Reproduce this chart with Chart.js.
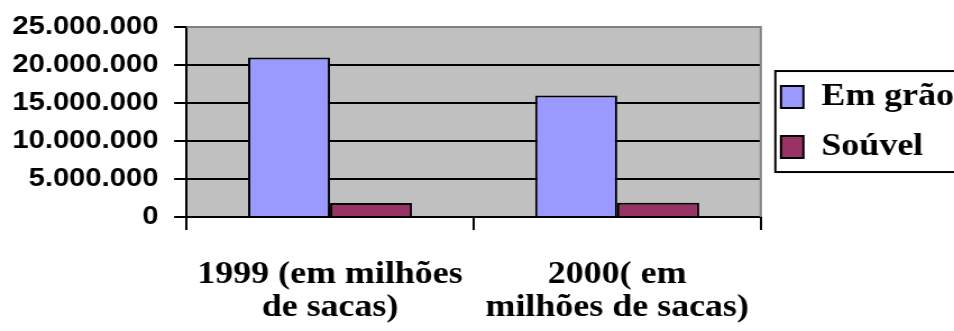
<!DOCTYPE html>
<html>
<head>
<meta charset="utf-8">
<script src="https://cdn.jsdelivr.net/npm/chart.js@4/dist/chart.umd.min.js"></script>
<style>
  html, body { margin: 0; padding: 0; background: #fff; overflow: hidden; }
  /* the source picture is a little stretched sideways, so the chart is too */
  #chart { display: block; width: 850px; height: 331px; transform: scaleX(1.1224); transform-origin: 0 0; }
</style>
</head>
<body>
<canvas id="chart" width="850" height="331"></canvas>
<script>
var categories = [["1999 (em milhões", "de sacas)"], ["2000( em", "milhões de sacas)"]];
var seriesNames = ["Em grão", "Soúvel"];
var emGrao = [21000000, 16000000];
var soluvel = [1850000, 1900000];
var yMin = 0;
var yMax = 25000000;
var yStep = 5000000;

var serif = "'Liberation Serif', 'Times New Roman', Times, serif";
var sans = "'Liberation Sans', Arial, Helvetica, sans-serif";

function fmt(v) {
  return String(v).replace(/\B(?=(\d{3})+(?!\d))/g, ".");
}

// grey plot area, grey top/right frame, box round the legend
var frame = {
  id: "frame",
  beforeDraw: function (chart) {
    var a = chart.chartArea, c = chart.ctx;
    c.save();
    c.fillStyle = "#c0c0c0";
    c.fillRect(a.left, a.top, a.right - a.left, a.bottom - a.top);
    c.restore();
  },
  afterDraw: function (chart) {
    var a = chart.chartArea, c = chart.ctx;
    c.save();
    c.strokeStyle = "#808080";
    c.lineWidth = 2;
    c.beginPath();
    c.moveTo(a.left, a.top);
    c.lineTo(a.right, a.top);
    c.lineTo(a.right, a.bottom);
    c.stroke();
    var hb = chart.legend.legendHitBoxes;
    if (hb && hb.length) {
      var first = hb[0], last = hb[hb.length - 1];
      var x0 = first.left - 5;
      var y0 = first.top - 10;
      var y1 = last.top + last.height + 9;
      c.strokeStyle = "#000";
      c.lineWidth = 2;
      c.strokeRect(x0, y0, chart.width - x0 + 10, y1 - y0);
    }
    c.restore();
  }
};

function draw() {
  new Chart(document.getElementById("chart"), {
    type: "bar",
    data: {
      labels: categories,
      datasets: [
        {
          label: seriesNames[0],
          data: emGrao,
          backgroundColor: "#9999ff",
          borderColor: "#000",
          borderWidth: 2,
          categoryPercentage: 0.571,
          barPercentage: 1.0
        },
        {
          label: seriesNames[1],
          data: soluvel,
          backgroundColor: "#993366",
          borderColor: "#000",
          borderWidth: 2,
          categoryPercentage: 0.571,
          barPercentage: 1.0
        }
      ]
    },
    options: {
      responsive: false,
      devicePixelRatio: 1,
      animation: false,
      layout: { padding: { left: -3, top: 2, right: -10, bottom: -21 } },
      plugins: {
        tooltip: { enabled: false },
        legend: {
          position: "right",
          fullSize: false,
          labels: {
            color: "#000",
            font: { family: serif, weight: "bold", size: 32 },
            boxWidth: 20,
            boxHeight: 22,
            padding: 18
          }
        }
      },
      scales: {
        x: {
          grid: {
            drawOnChartArea: false,
            color: "#000",
            lineWidth: 2,
            tickLength: 13
          },
          border: { color: "#000", width: 2 },
          ticks: {
            color: "#000",
            maxRotation: 0,
            autoSkip: false,
            padding: 28,
            font: { family: serif, weight: "bold", size: 32, lineHeight: 1.03 }
          }
        },
        y: {
          min: yMin,
          max: yMax,
          grid: {
            color: function (ctx) { return ctx.tick && ctx.tick.value === yMax ? "#808080" : "#000"; },
            tickColor: "#000",
            lineWidth: 2,
            tickLength: 11
          },
          border: { color: "#000", width: 2 },
          ticks: {
            stepSize: yStep,
            autoSkip: false,
            color: "#000",
            padding: 14,
            font: { family: sans, weight: "bold", size: 26, lineHeight: 1.0 },
            callback: function (v) { return fmt(v); }
          }
        }
      }
    },
    plugins: [frame]
  });
}

Promise.all([
  document.fonts.load("bold 30px 'Liberation Serif'"),
  document.fonts.load("bold 26px 'Liberation Sans'")
]).then(draw, draw);
</script>
</body>
</html>
